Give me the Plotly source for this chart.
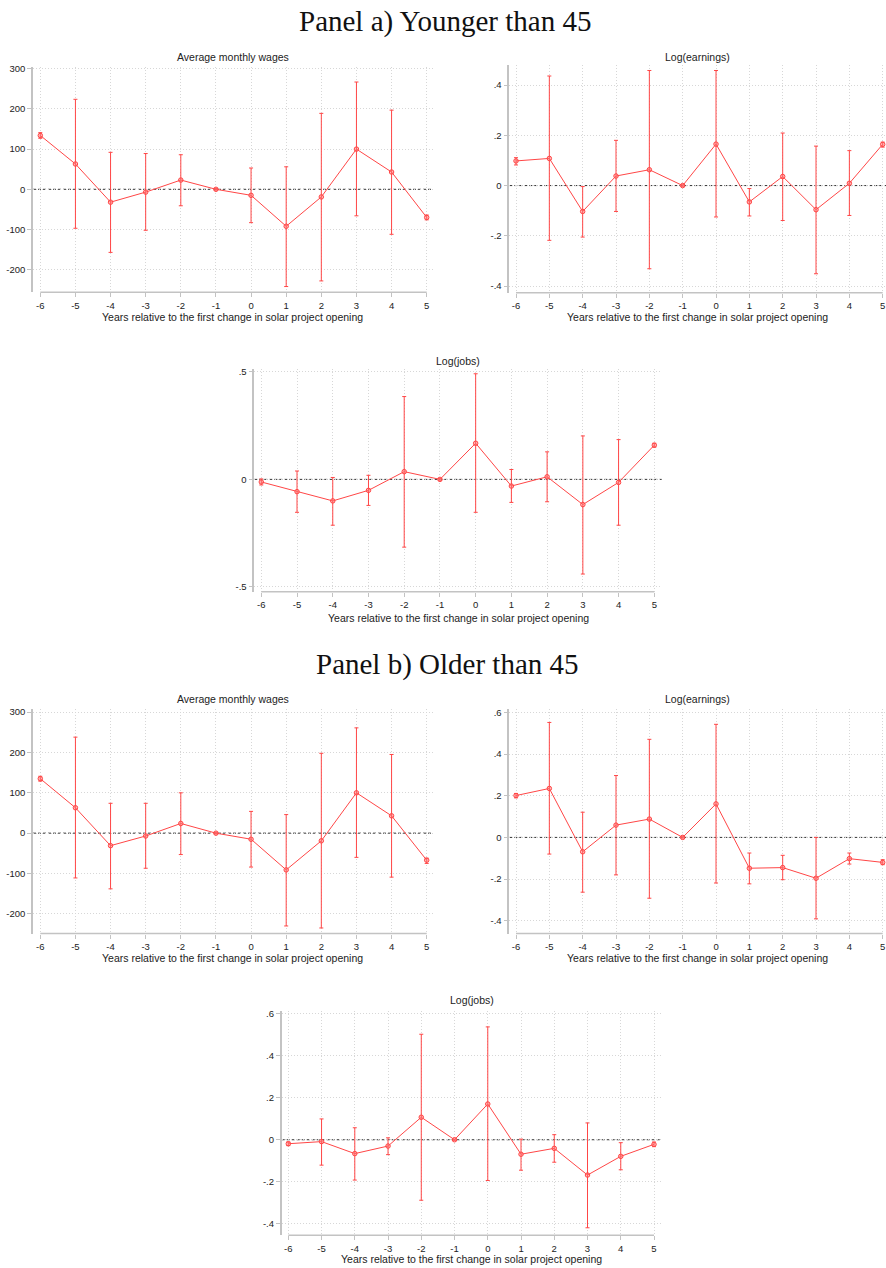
import plotly.graph_objects as go

W, H = 886, 1268

# Event-time axis
years = [-6, -5, -4, -3, -2, -1, 0, 1, 2, 3, 4, 5]

# Panel a) Younger than 45
young_wage_est = [134, 63, -32, -7, 23, 0, -15, -92, -19, 100, 43, -70]
young_wage_lo = [127, -97, -157, -102, -41, -2, -83, -242, -228, -66, -112, -76]
young_wage_hi = [141, 224, 92, 89, 86, 2, 53, 56, 189, 267, 197, -64]

young_earn_est = [0.098, 0.108, -0.103, 0.038, 0.063, 0.0, 0.165, -0.065, 0.036, -0.096, 0.009, 0.164]
young_earn_lo = [0.082, -0.218, -0.205, -0.103, -0.331, -0.003, -0.125, -0.121, -0.139, -0.351, -0.119, 0.153]
young_earn_hi = [0.111, 0.436, -0.004, 0.180, 0.458, 0.003, 0.458, -0.012, 0.209, 0.157, 0.139, 0.173]

young_jobs_est = [-0.012, -0.057, -0.100, -0.051, 0.036, 0.0, 0.168, -0.031, 0.012, -0.117, -0.014, 0.159]
young_jobs_lo = [-0.026, -0.153, -0.213, -0.121, -0.315, -0.004, -0.153, -0.107, -0.104, -0.440, -0.213, 0.150]
young_jobs_hi = [0.002, 0.039, 0.009, 0.019, 0.385, 0.004, 0.491, 0.046, 0.128, 0.202, 0.185, 0.168]

# Panel b) Older than 45
old_wage_est = [135, 63, -31, -7, 24, 0, -15, -91, -19, 100, 43, -67]
old_wage_lo = [129, -111, -138, -87, -53, -2, -84, -230, -235, -60, -109, -75]
old_wage_hi = [141, 238, 74, 74, 100, 2, 54, 46, 198, 261, 195, -62]

old_earn_est = [0.201, 0.235, -0.069, 0.059, 0.088, 0.0, 0.161, -0.148, -0.145, -0.196, -0.102, -0.120]
old_earn_lo = [0.190, -0.080, -0.263, -0.180, -0.292, -0.003, -0.219, -0.223, -0.203, -0.391, -0.128, -0.131]
old_earn_hi = [0.211, 0.552, 0.121, 0.297, 0.471, 0.003, 0.543, -0.075, -0.086, 0.000, -0.075, -0.107]

old_jobs_est = [-0.019, -0.009, -0.066, -0.030, 0.107, 0.0, 0.170, -0.069, -0.041, -0.168, -0.079, -0.022]
old_jobs_lo = [-0.028, -0.121, -0.192, -0.071, -0.288, -0.003, -0.194, -0.145, -0.107, -0.419, -0.143, -0.033]
old_jobs_hi = [-0.011, 0.099, 0.057, 0.009, 0.502, 0.003, 0.537, 0.003, 0.024, 0.080, -0.014, -0.011]

wage_ticks = [-200, -100, 0, 100, 200, 300]
wage_ticktext = ["-200", "-100", "0", "100", "200", "300"]
log4_ticks = [-0.4, -0.2, 0, 0.2, 0.4]
log4_ticktext = ["-.4", "-.2", "0", ".2", ".4"]
log5_ticks = [-0.5, 0, 0.5]
log5_ticktext = ["-.5", "0", ".5"]
log6_ticks = [-0.4, -0.2, 0, 0.2, 0.4, 0.6]
log6_ticktext = ["-.4", "-.2", "0", ".2", ".4", ".6"]

subtitles = ["Average monthly wages", "Log(earnings)", "Log(jobs)"]
xlabel = "Years relative to the first change in solar project opening"

# Pixel boxes of each plot region: (left, right, top, bottom), y-range, ticks
panels = [
    dict(est=young_wage_est, lo=young_wage_lo, hi=young_wage_hi, box=(33, 433, 63, 289.3),
         yr=[-256, 305], tv=wage_ticks, tt=wage_ticktext, title=subtitles[0], ty=53, xt=314),
    dict(est=young_earn_est, lo=young_earn_lo, hi=young_earn_hi, box=(509.3, 886, 61.7, 290),
         yr=[-0.427, 0.478], tv=log4_ticks, tt=log4_ticktext, title=subtitles[1], ty=53, xt=314),
    dict(est=young_jobs_est, lo=young_jobs_lo, hi=young_jobs_hi, box=(254.3, 661.7, 366.7, 590),
         yr=[-0.522, 0.512], tv=log5_ticks, tt=log5_ticktext, title=subtitles[2], ty=358, xt=616),
    dict(est=old_wage_est, lo=old_wage_lo, hi=old_wage_hi, box=(33, 433, 707.7, 933.3),
         yr=[-249, 308], tv=wage_ticks, tt=wage_ticktext, title=subtitles[0], ty=697.7, xt=958),
    dict(est=old_earn_est, lo=old_earn_lo, hi=old_earn_hi, box=(509.3, 886, 707.7, 933.3),
         yr=[-0.462, 0.617], tv=log6_ticks, tt=log6_ticktext, title=subtitles[1], ty=697.7, xt=958),
    dict(est=old_jobs_est, lo=old_jobs_lo, hi=old_jobs_hi, box=(281.7, 661.7, 1010.7, 1236),
         yr=[-0.454, 0.614], tv=log6_ticks, tt=log6_ticktext, title=subtitles[2], ty=1000, xt=1260),
]

# pixel positions of the -6 and 5 ticks in each panel
tick_px = [(40.3, 426.7), (516, 882.7), (261.3, 654.3),
           (40.3, 426.7), (516, 882.7), (288.3, 654)]

RED = "rgb(255,70,70)"
AXIS_GREY = "rgb(195,195,195)"
GRID = "rgb(215,215,215)"
FONT = "Liberation Sans, Arial, sans-serif"
SERIF = "Liberation Serif, serif"

fig = go.Figure()
layout = {}
shapes = []
annotations = []


def py(px):
    return 1 - px / H


for i, p in enumerate(panels, start=1):
    xa = "x" if i == 1 else f"x{i}"
    ya = "y" if i == 1 else f"y{i}"
    left, right, top, bottom = p["box"]
    a, b = tick_px[i - 1]
    u = (b - a) / 11.0
    xr = [-6 - (a - left) / u, 5 + (right - b) / u]

    fig.add_trace(go.Scatter(
        x=years, y=p["est"], xaxis=xa, yaxis=ya, mode="lines+markers",
        line=dict(color=RED, width=1),
        marker=dict(symbol="circle", size=4.5, color="rgba(255,120,120,0.5)",
                    line=dict(color=RED, width=1)),
        error_y=dict(type="data", symmetric=False,
                     array=[h - e for h, e in zip(p["hi"], p["est"])],
                     arrayminus=[e - l for e, l in zip(p["est"], p["lo"])],
                     color=RED, thickness=1, width=2),
        showlegend=False, cliponaxis=False,
    ))

    layout["xaxis" if i == 1 else f"xaxis{i}"] = dict(
        domain=[left / W, min(right / W, 1.0)], anchor=ya, range=xr,
        tickvals=years, ticktext=[str(v) for v in years],
        showgrid=True, gridcolor=GRID, griddash="1px,2px", gridwidth=1,
        zeroline=False, showline=False,
        ticks="outside", ticklen=4, tickcolor=AXIS_GREY, tickwidth=1,
        tickfont=dict(family=FONT, size=9.5, color="#222"),
    )
    layout["yaxis" if i == 1 else f"yaxis{i}"] = dict(
        domain=[py(bottom), py(top)], anchor=xa, range=p["yr"],
        tickvals=p["tv"], ticktext=p["tt"],
        showgrid=True, gridcolor=GRID, griddash="1px,2px", gridwidth=1,
        zeroline=False, showline=True, linecolor=AXIS_GREY, linewidth=1.5,
        ticks="outside", ticklen=4, tickcolor=AXIS_GREY, tickwidth=1,
        tickfont=dict(family=FONT, size=9.5, color="#222"),
    )

    # bottom axis line spanning the event window
    shapes.append(dict(type="line", xref=xa, yref=f"{ya} domain", x0=-6, x1=5, y0=0, y1=0,
                       line=dict(color=AXIS_GREY, width=1.5)))
    # zero reference line
    shapes.append(dict(type="line", xref=f"{xa} domain", yref=ya, x0=0, x1=1, y0=0, y1=0,
                       line=dict(color="#333", width=1, dash="3px,2px"), layer="below"))
    cx = (left + min(right, 886)) / 2
    annotations.append(dict(text=p["title"], x=cx / W, y=py(p["ty"]), xref="paper", yref="paper",
                            xanchor="center", yanchor="middle", showarrow=False,
                            font=dict(family=FONT, size=10.5, color="#222")))
    annotations.append(dict(text=xlabel, x=cx / W, y=py(p["xt"]), xref="paper", yref="paper",
                            xanchor="center", yanchor="middle", showarrow=False,
                            font=dict(family=FONT, size=10.5, color="#222")))

annotations.append(dict(text="Panel a) Younger than 45", x=445 / W, y=py(18), xref="paper", yref="paper",
                        xanchor="center", yanchor="middle", showarrow=False,
                        font=dict(family=SERIF, size=29, color="#111")))
annotations.append(dict(text="Panel b) Older than 45", x=447 / W, y=py(663), xref="paper", yref="paper",
                        xanchor="center", yanchor="middle", showarrow=False,
                        font=dict(family=SERIF, size=29, color="#111")))

fig.update_layout(
    width=W, height=H, margin=dict(l=0, r=0, t=0, b=0),
    paper_bgcolor="white", plot_bgcolor="white",
    shapes=shapes, annotations=annotations, **layout,
)

fig.write_html("out.html")
